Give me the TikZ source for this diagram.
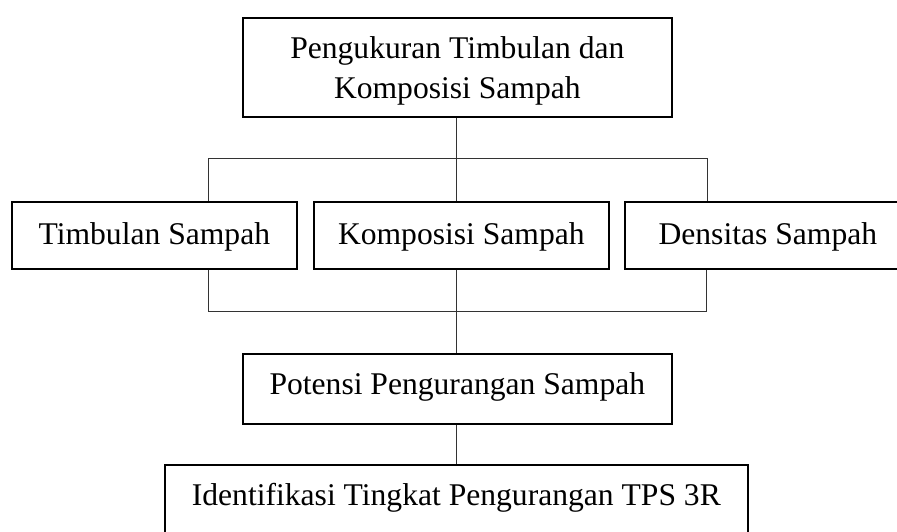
\documentclass[tikz,border=0pt]{standalone}
\usepackage{fontspec}
\setmainfont{Liberation Serif}
\begin{document}
\begin{tikzpicture}[x=1pt,y=-1pt,
  box/.style={draw=black, line width=1.7pt, inner sep=0pt, anchor=north west,
    font=\fontsize{31.6}{40}\selectfont},
  conn/.style={draw=black!80, line width=1pt}]
\useasboundingbox (0,0) rectangle (897,532);
\clip (0,0) rectangle (897,532);
% boxes
\node[box, minimum width=429pt, text height=81pt, text depth=18pt, align=center] (top) at (242,17)
  {Pengukuran Timbulan dan\\Komposisi Sampah};
\node[box, minimum width=285pt, text height=42.3pt, text depth=24.7pt] (tim) at (11,201) {Timbulan Sampah};
\node[box, minimum width=295pt, text height=42.3pt, text depth=24.7pt] (kom) at (313,201) {Komposisi Sampah};
\node[box, minimum width=286pt, text height=42.3pt, text depth=24.7pt] (den) at (624,201) {Densitas Sampah};
\node[box, minimum width=429pt, text height=41pt, text depth=29pt] (pot) at (242,353) {Potensi Pengurangan Sampah};
\node[box, minimum width=583pt, text height=41pt, text depth=40pt] (ide) at (164,464) {Identifikasi Tingkat Pengurangan TPS 3R};
% junctions
\coordinate (jT) at (456,159);
\coordinate (jL) at (208,159);
\coordinate (jR) at (707,159);
\coordinate (kL) at (208,311);
\coordinate (kR) at (706,311);
% connectors
\draw[conn] (top.south -| jT) -- (jT);
\draw[conn] (jL |- tim.north) -- (jL) -- (jR) -- (jR |- den.north);
\draw[conn] (jT) -- (jT |- kom.north);
\draw[conn] (kL |- tim.south) -- (kL) -- (kR) -- (kR |- den.south);
\draw[conn] (jT |- kom.south) -- (jT |- pot.north);
\draw[conn] (jT |- pot.south) -- (jT |- ide.north);
\end{tikzpicture}
\end{document}
